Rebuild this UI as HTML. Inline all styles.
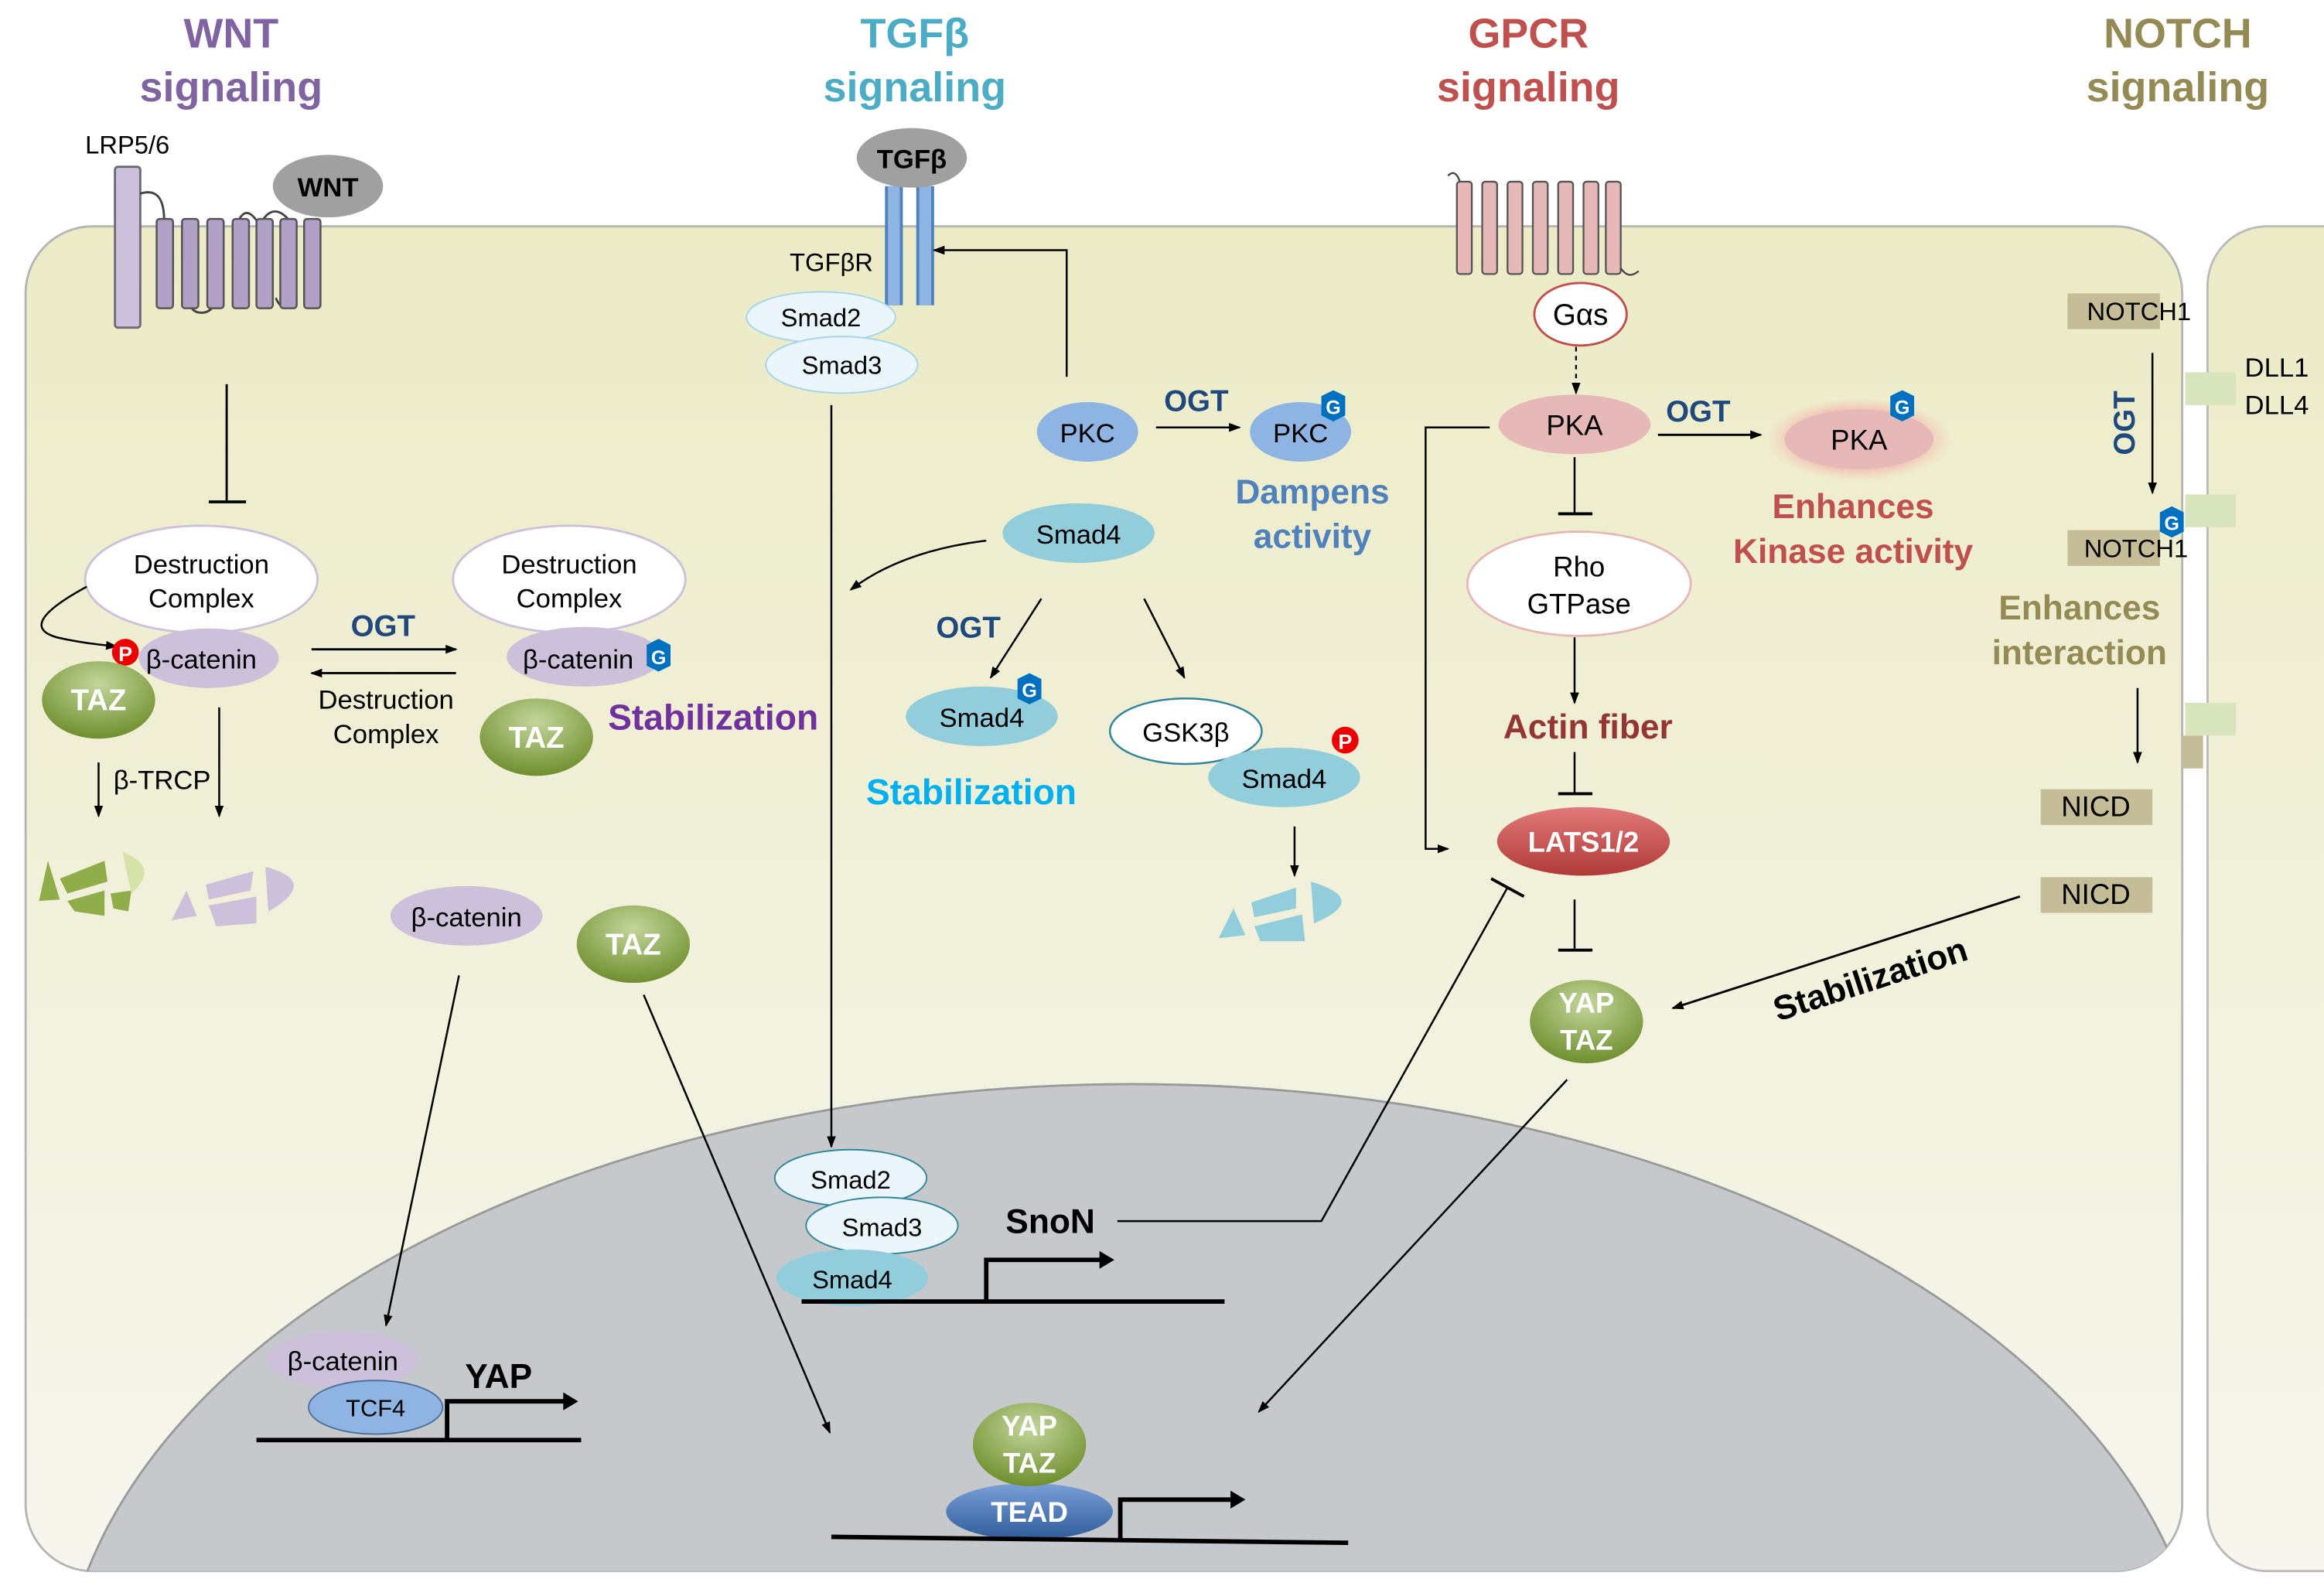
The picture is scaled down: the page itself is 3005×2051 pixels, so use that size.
<!DOCTYPE html>
<html><head><meta charset="utf-8"><style>
html,body{margin:0;padding:0;background:#fff;width:3005px;height:2051px;overflow:hidden}
svg{display:block}
text{font-family:"Liberation Sans",sans-serif}
</style></head><body>
<svg width="3005" height="2051" viewBox="0 0 1560 1065" xmlns="http://www.w3.org/2000/svg">
<defs>
<linearGradient id="cell" x1="0" y1="0" x2="0" y2="1">
<stop offset="0" stop-color="#ecebc6"/><stop offset="1" stop-color="#f6f6ee"/></linearGradient>
<radialGradient id="taz" cx="0.5" cy="0.3" r="0.7"><stop offset="0" stop-color="#c3d69b"/><stop offset="1" stop-color="#6f8f2e"/></radialGradient>
<linearGradient id="tead" x1="0" y1="0" x2="0" y2="1"><stop offset="0" stop-color="#7aa0d6"/><stop offset="1" stop-color="#2f5c9c"/></linearGradient>
<linearGradient id="lats" x1="0" y1="0" x2="0" y2="1"><stop offset="0" stop-color="#e07a78"/><stop offset="1" stop-color="#b03a38"/></linearGradient>
<radialGradient id="glow"><stop offset="0.6" stop-color="#f2a8a0"/><stop offset="1" stop-color="#f6c6bc" stop-opacity="0"/></radialGradient>
<marker id="a" markerWidth="8" markerHeight="8" refX="7" refY="4" orient="auto" markerUnits="userSpaceOnUse"><path d="M0,1 L8,4 L0,7z" fill="#000"/></marker>
<clipPath id="cc"><rect x="17" y="152" width="1448" height="903" rx="45"/></clipPath>
</defs>
<g font-weight="bold" font-size="28" text-anchor="middle">
<text x="155" y="32" fill="#8064a2">WNT</text><text x="155" y="68" fill="#8064a2">signaling</text>
<text x="614" y="32" fill="#4bacc6">TGFβ</text><text x="614" y="68" fill="#4bacc6">signaling</text>
<text x="1026" y="32" fill="#c0504d">GPCR</text><text x="1026" y="68" fill="#c0504d">signaling</text>
<text x="1462" y="32" fill="#948a54">NOTCH</text><text x="1462" y="68" fill="#948a54">signaling</text>
</g>
<rect x="1482" y="152" width="120" height="903" rx="40" fill="url(#cell)" stroke="#bbb" stroke-width="1.5"/>
<rect x="17" y="152" width="1448" height="903" rx="45" fill="url(#cell)" stroke="#b5b5b5" stroke-width="1.5"/>
<ellipse cx="760" cy="1150" rx="720" ry="422" fill="#c5c9cb" stroke="#9a9a9a" stroke-width="1.5" clip-path="url(#cc)"/>
<rect x="1467" y="250" width="34" height="22" fill="#d8e4bc"/>
<rect x="1467" y="332" width="34" height="22" fill="#d8e4bc"/>
<rect x="1467" y="472" width="34" height="22" fill="#d8e4bc"/>
<rect x="1465" y="494" width="14" height="22" fill="#c4bd97"/>
<text x="57" y="103" font-size="17">LRP5/6</text>
<rect x="77" y="112" width="17" height="108" rx="2" fill="#ccc0da" stroke="#6f6a7a" stroke-width="1.5"/>
<path d="M94,130 Q110,125 110,148 M127,200 q0,10 8,10 q8,0 10,-10 M160,148 q5,-10 12,0 M185,200 q5,12 12,0 M176,148 q8,-12 18,0" fill="none" stroke="#444" stroke-width="1.5"/>
<g fill="#b2a1c7" stroke="#555" stroke-width="1.3">
<rect x="105" y="147" width="11" height="60" rx="2"/><rect x="122" y="147" width="11" height="60" rx="2"/><rect x="139" y="147" width="11" height="60" rx="2"/><rect x="156" y="147" width="11" height="60" rx="2"/><rect x="172" y="147" width="11" height="60" rx="2"/><rect x="188" y="147" width="11" height="60" rx="2"/><rect x="204" y="147" width="11" height="60" rx="2"/></g>
<ellipse cx="220" cy="125" rx="37" ry="21" fill="#a0a0a0"/>
<text x="220" y="132" font-size="18" font-weight="bold" text-anchor="middle">WNT</text>
<line x1="152" y1="258" x2="152" y2="336" stroke="#000" stroke-width="1.5"/><line x1="140" y1="337" x2="165" y2="337" stroke="#000" stroke-width="2"/>
<ellipse cx="135" cy="389" rx="78" ry="36" fill="#fff" stroke="#ccc0da" stroke-width="1.5"/>
<text x="135" y="385" font-size="18" text-anchor="middle">Destruction</text><text x="135" y="408" font-size="18" text-anchor="middle">Complex</text>
<ellipse cx="382" cy="389" rx="78" ry="36" fill="#fff" stroke="#ccc0da" stroke-width="1.5"/>
<text x="382" y="385" font-size="18" text-anchor="middle">Destruction</text><text x="382" y="408" font-size="18" text-anchor="middle">Complex</text>
<path d="M58,394 Q10,420 38,428 Q55,432 78,434" fill="none" stroke="#000" stroke-width="1.3" marker-end="url(#a)"/>
<ellipse cx="140" cy="442" rx="47" ry="20" fill="#ccc0da"/>
<text x="135" y="449" font-size="18" text-anchor="middle">β-catenin</text>
<circle cx="84" cy="438" r="9" fill="#e00"/><text x="84" y="444" font-size="14" font-weight="bold" fill="#fff" text-anchor="middle">P</text>
<ellipse cx="66" cy="470" rx="38" ry="26" fill="url(#taz)"/><text x="66" y="477" font-size="20" font-weight="bold" fill="#fff" text-anchor="middle">TAZ</text>
<ellipse cx="392" cy="441" rx="52" ry="20" fill="#ccc0da"/>
<text x="388" y="449" font-size="18" text-anchor="middle">β-catenin</text>
<polygon points="442,429 450,433 450,447 442,451 434,447 434,433" fill="#0070c0"/><text x="442" y="446" font-size="13" font-weight="bold" fill="#fff" text-anchor="middle">G</text>
<ellipse cx="360" cy="495" rx="38" ry="26" fill="url(#taz)"/><text x="360" y="502" font-size="20" font-weight="bold" fill="#fff" text-anchor="middle">TAZ</text>
<text x="408" y="490" font-size="24" font-weight="bold" fill="#7030a0">Stabilization</text>
<text x="257" y="427" font-size="20" font-weight="bold" fill="#1f497d" text-anchor="middle">OGT</text>
<line x1="209" y1="436" x2="306" y2="436" stroke="#000" stroke-width="1.5" marker-end="url(#a)"/>
<line x1="306" y1="452" x2="209" y2="452" stroke="#000" stroke-width="1.5" marker-end="url(#a)"/>
<text x="259" y="476" font-size="18" text-anchor="middle">Destruction</text><text x="259" y="499" font-size="18" text-anchor="middle">Complex</text>
<line x1="66" y1="512" x2="66" y2="548" stroke="#000" stroke-width="1.3" marker-end="url(#a)"/>
<line x1="147" y1="475" x2="147" y2="548" stroke="#000" stroke-width="1.3" marker-end="url(#a)"/>
<text x="76" y="530" font-size="18">β-TRCP</text>
<g fill="#8fae4a"><polygon points="26,605 32,578 40,604"/><polygon points="40,590 70,578 72,592 45,600"/><polygon points="45,605 70,598 70,615 50,612"/><polygon points="74,600 88,598 86,612 76,610"/></g>
<path d="M82,572 Q108,582 88,600z" fill="#d6e3a8"/>
<g fill="#ccc0da"><polygon points="115,618 125,598 132,615"/><polygon points="138,594 170,585 168,598 140,604"/><polygon points="140,608 172,602 172,620 145,622"/><path d="M178,582 Q215,592 180,612z"/></g>
<ellipse cx="313" cy="615" rx="51" ry="20" fill="#ccc0da"/><text x="313" y="622" font-size="18" text-anchor="middle">β-catenin</text>
<ellipse cx="425" cy="634" rx="38" ry="26" fill="url(#taz)"/><text x="425" y="641" font-size="20" font-weight="bold" fill="#fff" text-anchor="middle">TAZ</text>
<line x1="308" y1="655" x2="259" y2="890" stroke="#000" stroke-width="1.3" marker-end="url(#a)"/>
<line x1="432" y1="668" x2="557" y2="962" stroke="#000" stroke-width="1.3" marker-end="url(#a)"/>
<ellipse cx="230" cy="913" rx="51" ry="19" fill="#ccc0da"/><text x="230" y="920" font-size="18" text-anchor="middle">β-catenin</text>
<ellipse cx="252" cy="945" rx="45" ry="18" fill="#8eb4e3" stroke="#4f6f9f"/><text x="252" y="951" font-size="16" text-anchor="middle">TCF4</text>
<text x="312" y="932" font-size="23" font-weight="bold">YAP</text>
<line x1="172" y1="967" x2="390" y2="967" stroke="#000" stroke-width="3"/>
<polyline points="300,967 300,941 380,941" fill="none" stroke="#000" stroke-width="3"/><path d="M378,935 L388,941 L378,947z" fill="#000"/>
<line x1="600" y1="125" x2="600" y2="205" stroke="#4f81bd" stroke-width="12"/>
<line x1="600" y1="125" x2="600" y2="205" stroke="#8eb4e3" stroke-width="8"/>
<line x1="621" y1="125" x2="621" y2="205" stroke="#4f81bd" stroke-width="12"/>
<line x1="621" y1="125" x2="621" y2="205" stroke="#8eb4e3" stroke-width="8"/>
<ellipse cx="612" cy="106" rx="37" ry="20" fill="#a0a0a0"/><text x="612" y="113" font-size="18" font-weight="bold" text-anchor="middle">TGFβ</text>
<text x="530" y="182" font-size="17">TGFβR</text>
<ellipse cx="551" cy="213" rx="50" ry="17" fill="#eaf6fb" stroke="#a5d5ea"/><text x="551" y="219" font-size="17" text-anchor="middle">Smad2</text>
<ellipse cx="565" cy="245" rx="51" ry="19" fill="#eaf6fb" stroke="#a5d5ea"/><text x="565" y="251" font-size="17" text-anchor="middle">Smad3</text>
<line x1="558" y1="272" x2="558" y2="770" stroke="#000" stroke-width="1.3" marker-end="url(#a)"/>
<polyline points="716,253 716,168 627,168" fill="none" stroke="#000" stroke-width="1.3" marker-end="url(#a)"/>
<ellipse cx="730" cy="290" rx="34" ry="20" fill="#8eb4e3"/><text x="730" y="297" font-size="18" text-anchor="middle">PKC</text>
<line x1="776" y1="287" x2="832" y2="287" stroke="#000" stroke-width="1.3" marker-end="url(#a)"/>
<text x="803" y="276" font-size="20" font-weight="bold" fill="#1f497d" text-anchor="middle">OGT</text>
<ellipse cx="873" cy="290" rx="34" ry="20" fill="#8eb4e3"/><text x="873" y="297" font-size="18" text-anchor="middle">PKC</text>
<polygon points="895,262 903,266 903,279 895,283 887,279 887,266" fill="#0070c0"/><text x="895" y="278" font-size="13" font-weight="bold" fill="#fff" text-anchor="middle">G</text>
<text x="881" y="338" font-size="23" font-weight="bold" fill="#4f81bd" text-anchor="middle">Dampens</text>
<text x="881" y="368" font-size="23" font-weight="bold" fill="#4f81bd" text-anchor="middle">activity</text>
<ellipse cx="724" cy="358" rx="51" ry="20" fill="#92cddc"/><text x="724" y="365" font-size="18" text-anchor="middle">Smad4</text>
<path d="M662,363 Q605,370 571,396" fill="none" stroke="#000" stroke-width="1.3" marker-end="url(#a)"/>
<line x1="699" y1="402" x2="665" y2="455" stroke="#000" stroke-width="1.3" marker-end="url(#a)"/>
<line x1="768" y1="402" x2="795" y2="455" stroke="#000" stroke-width="1.3" marker-end="url(#a)"/>
<text x="650" y="428" font-size="20" font-weight="bold" fill="#1f497d" text-anchor="middle">OGT</text>
<ellipse cx="659" cy="481" rx="51" ry="20" fill="#92cddc"/><text x="659" y="488" font-size="18" text-anchor="middle">Smad4</text>
<polygon points="691,452 699,456 699,469 691,473 683,469 683,456" fill="#0070c0"/><text x="691" y="468" font-size="13" font-weight="bold" fill="#fff" text-anchor="middle">G</text>
<text x="652" y="540" font-size="24" font-weight="bold" fill="#00b0f0" text-anchor="middle">Stabilization</text>
<ellipse cx="796" cy="491" rx="51" ry="22" fill="#fff" stroke="#31859c" stroke-width="1.3"/><text x="796" y="498" font-size="18" text-anchor="middle">GSK3β</text>
<ellipse cx="862" cy="522" rx="51" ry="20" fill="#92cddc"/><text x="862" y="529" font-size="18" text-anchor="middle">Smad4</text>
<circle cx="903" cy="497" r="9" fill="#e00"/><text x="903" y="503" font-size="14" font-weight="bold" fill="#fff" text-anchor="middle">P</text>
<line x1="869" y1="555" x2="869" y2="588" stroke="#000" stroke-width="1.3" marker-end="url(#a)"/>
<g fill="#92cddc"><polygon points="818,630 828,610 836,628"/><polygon points="840,606 870,596 870,610 842,616"/><polygon points="842,622 874,614 876,632 846,632"/><path d="M880,592 Q920,604 882,620z"/></g>
<ellipse cx="571" cy="791" rx="51" ry="19" fill="#eaf6fb" stroke="#31859c"/><text x="571" y="798" font-size="17" text-anchor="middle">Smad2</text>
<ellipse cx="592" cy="823" rx="51" ry="19" fill="#eaf6fb" stroke="#31859c"/><text x="592" y="830" font-size="17" text-anchor="middle">Smad3</text>
<ellipse cx="572" cy="858" rx="51" ry="19" fill="#92cddc"/><text x="572" y="865" font-size="17" text-anchor="middle">Smad4</text>
<text x="675" y="828" font-size="23" font-weight="bold">SnoN</text>
<line x1="538" y1="874" x2="822" y2="874" stroke="#000" stroke-width="3"/>
<polyline points="662,874 662,846 740,846" fill="none" stroke="#000" stroke-width="3"/><path d="M738,840 L748,846 L738,852z" fill="#000"/>
<polyline points="750,820 887,820 1012,596" fill="none" stroke="#000" stroke-width="1.3"/>
<line x1="1001" y1="590" x2="1023" y2="602" stroke="#000" stroke-width="2"/>
<ellipse cx="691" cy="1015" rx="56" ry="19" fill="url(#tead)"/><text x="691" y="1022" font-size="19" font-weight="bold" fill="#fff" text-anchor="middle">TEAD</text>
<ellipse cx="691" cy="970" rx="38" ry="28" fill="url(#taz)"/>
<text x="691" y="964" font-size="19" font-weight="bold" fill="#fff" text-anchor="middle">YAP</text><text x="691" y="989" font-size="19" font-weight="bold" fill="#fff" text-anchor="middle">TAZ</text>
<line x1="558" y1="1032" x2="905" y2="1036" stroke="#000" stroke-width="3"/>
<polyline points="752,1034 752,1007 828,1007" fill="none" stroke="#000" stroke-width="3"/><path d="M826,1001 L836,1007 L826,1013z" fill="#000"/>
<g fill="#e6b9b8" stroke="#555" stroke-width="1.2">
<rect x="978" y="122" width="10" height="62" rx="2"/><rect x="995" y="122" width="10" height="62" rx="2"/><rect x="1012" y="122" width="10" height="62" rx="2"/><rect x="1029" y="122" width="10" height="62" rx="2"/><rect x="1046" y="122" width="10" height="62" rx="2"/><rect x="1063" y="122" width="10" height="62" rx="2"/><rect x="1078" y="122" width="10" height="62" rx="2"/></g>
<path d="M972,118 q5,-5 8,4 M1088,180 q5,8 12,2" fill="none" stroke="#444" stroke-width="1.2"/>
<ellipse cx="1061" cy="211" rx="31" ry="21" fill="#fff" stroke="#c0504d" stroke-width="1.5"/><text x="1061" y="218" font-size="20" text-anchor="middle">Gαs</text>
<line x1="1058" y1="233" x2="1058" y2="264" stroke="#000" stroke-width="1.2" stroke-dasharray="3,3" marker-end="url(#a)"/>
<ellipse cx="1057" cy="285" rx="51" ry="20" fill="#e6b9b8"/><text x="1057" y="292" font-size="19" text-anchor="middle">PKA</text>
<text x="1140" y="283" font-size="20" font-weight="bold" fill="#1f497d" text-anchor="middle">OGT</text>
<line x1="1113" y1="292" x2="1182" y2="292" stroke="#000" stroke-width="1.5" marker-end="url(#a)"/>
<ellipse cx="1248" cy="295" rx="62" ry="28" fill="url(#glow)"/>
<ellipse cx="1248" cy="295" rx="50" ry="20" fill="#e6b9b8"/><text x="1248" y="302" font-size="19" text-anchor="middle">PKA</text>
<polygon points="1277,262 1285,266 1285,279 1277,283 1269,279 1269,266" fill="#0070c0"/><text x="1277" y="278" font-size="13" font-weight="bold" fill="#fff" text-anchor="middle">G</text>
<text x="1244" y="348" font-size="23" font-weight="bold" fill="#c0504d" text-anchor="middle">Enhances</text>
<text x="1244" y="378" font-size="23" font-weight="bold" fill="#c0504d" text-anchor="middle">Kinase activity</text>
<line x1="1057" y1="307" x2="1057" y2="344" stroke="#000" stroke-width="1.3"/><line x1="1046" y1="345" x2="1069" y2="345" stroke="#000" stroke-width="2"/>
<polyline points="1000,287 957,287 957,570 972,570" fill="none" stroke="#000" stroke-width="1.3" marker-end="url(#a)"/>
<ellipse cx="1060" cy="392" rx="75" ry="35" fill="#fff" stroke="#e6b9b8" stroke-width="1.5"/>
<text x="1060" y="387" font-size="19" text-anchor="middle">Rho</text><text x="1060" y="412" font-size="19" text-anchor="middle">GTPase</text>
<line x1="1057" y1="428" x2="1057" y2="472" stroke="#000" stroke-width="1.3" marker-end="url(#a)"/>
<text x="1066" y="496" font-size="23" font-weight="bold" fill="#943634" text-anchor="middle">Actin fiber</text>
<line x1="1057" y1="505" x2="1057" y2="532" stroke="#000" stroke-width="1.3"/><line x1="1046" y1="533" x2="1069" y2="533" stroke="#000" stroke-width="2"/>
<ellipse cx="1063" cy="565" rx="58" ry="23" fill="url(#lats)"/><text x="1063" y="572" font-size="19" font-weight="bold" fill="#fff" text-anchor="middle">LATS1/2</text>
<line x1="1057" y1="604" x2="1057" y2="637" stroke="#000" stroke-width="1.3"/><line x1="1046" y1="638" x2="1069" y2="638" stroke="#000" stroke-width="2"/>
<ellipse cx="1065" cy="686" rx="38" ry="28" fill="url(#taz)"/>
<text x="1065" y="680" font-size="19" font-weight="bold" fill="#fff" text-anchor="middle">YAP</text><text x="1065" y="705" font-size="19" font-weight="bold" fill="#fff" text-anchor="middle">TAZ</text>
<line x1="1052" y1="725" x2="845" y2="948" stroke="#000" stroke-width="1.3" marker-end="url(#a)"/>
<rect x="1388" y="197" width="62" height="24" fill="#c4bd97"/><text x="1436" y="215" font-size="17" text-anchor="middle">NOTCH1</text>
<text x="1507" y="253" font-size="18">DLL1</text><text x="1507" y="278" font-size="18">DLL4</text>
<line x1="1445" y1="237" x2="1445" y2="331" stroke="#000" stroke-width="1.3" marker-end="url(#a)"/>
<text x="1433" y="284" font-size="20" font-weight="bold" fill="#1f497d" text-anchor="middle" transform="rotate(-90 1433 284)">OGT</text>
<rect x="1388" y="356" width="62" height="24" fill="#c4bd97"/><text x="1434" y="374" font-size="17" text-anchor="middle">NOTCH1</text>
<polygon points="1458,340 1466,344 1466,357 1458,361 1450,357 1450,344" fill="#0070c0"/><text x="1458" y="356" font-size="13" font-weight="bold" fill="#fff" text-anchor="middle">G</text>
<text x="1396" y="416" font-size="23" font-weight="bold" fill="#948a54" text-anchor="middle">Enhances</text>
<text x="1396" y="446" font-size="23" font-weight="bold" fill="#948a54" text-anchor="middle">interaction</text>
<line x1="1435" y1="462" x2="1435" y2="512" stroke="#000" stroke-width="1.3" marker-end="url(#a)"/>
<rect x="1370" y="530" width="75" height="24" fill="#c4bd97"/><text x="1407" y="548" font-size="19" text-anchor="middle">NICD</text>
<rect x="1370" y="589" width="75" height="24" fill="#c4bd97"/><text x="1407" y="607" font-size="19" text-anchor="middle">NICD</text>
<line x1="1356" y1="602" x2="1123" y2="677" stroke="#000" stroke-width="1.5" marker-end="url(#a)"/>
<text x="1258" y="665" font-size="23" font-weight="bold" text-anchor="middle" transform="rotate(-18 1258 665)">Stabilization</text>
</svg>
</body></html>
